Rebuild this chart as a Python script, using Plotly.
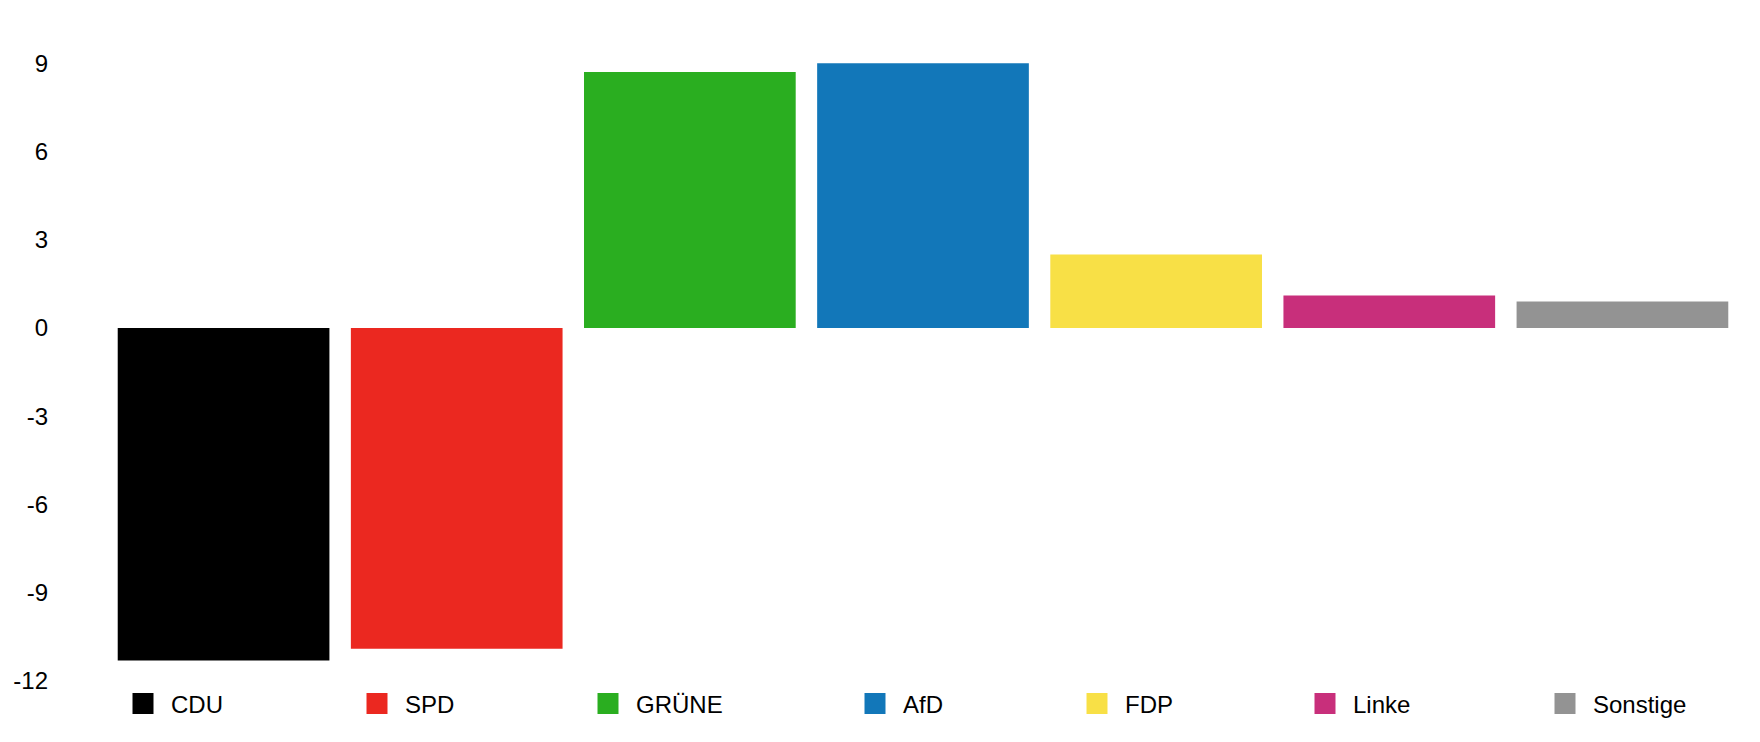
import plotly.graph_objects as go

parties = ["CDU", "SPD", "GRÜNE", "AfD", "FDP", "Linke", "Sonstige"]
changes = [-11.3, -10.9, 8.7, 9.0, 2.5, 1.1, 0.9]
colors = ["#000000", "#EB2820", "#2AAE20", "#1277B9", "#F8E046", "#C82F7B", "#939393"]
y_ticks = [-12, -9, -6, -3, 0, 3, 6, 9]

# The page body has an 8px default margin, so the figure is laid out 8px
# smaller and everything is measured in figure pixels.
W, H = 1744, 726
ML, MR, MT, MB = 99, 13, 0, 53
PW, PH = W - ML - MR, H - MT - MB

# vertical scale: 22.5 units over 662 px, axis bottom at -12
PX_PER_UNIT = 662 / 22.5
Y_MIN = -12
Y_MAX = Y_MIN + PH / PX_PER_UNIT

# legend entry left edges (figure px)
legend_left_px = [107, 341, 572, 839, 1061, 1289, 1529]
legend_center_y_px = 696

FONT = "Liberation Sans, Arial, Helvetica, sans-serif"

fig = go.Figure()

# the bars
for p, v, c in zip(parties, changes, colors):
    fig.add_trace(go.Bar(x=[p], y=[v], marker=dict(color=c, line=dict(width=0)),
                         showlegend=False, hoverinfo="x+y"))

# legend entries (one legend per entry, placed like the reference)
layout_legends = {}
for i, (p, c) in enumerate(zip(parties, colors)):
    key = "legend" if i == 0 else f"legend{i+1}"
    fig.add_trace(go.Scatter(x=[None], y=[None], name=p, mode="markers",
                             marker=dict(symbol="square", size=16, color=c,
                                         line=dict(color=c, width=5)),
                             showlegend=True, legend=key, hoverinfo="skip"))
    layout_legends[key] = dict(
        xref="paper", yref="paper",
        x=(legend_left_px[i] - ML) / PW, xanchor="left",
        y=(H - MB - legend_center_y_px) / PH, yanchor="middle",
        orientation="h", itemwidth=46,
        font=dict(family=FONT, size=24, color="#000000"),
        bgcolor="rgba(0,0,0,0)", borderwidth=0,
        itemclick=False, itemdoubleclick=False,
    )

fig.update_layout(
    width=W, height=H,
    barmode="relative",
    bargap=0.092,
    plot_bgcolor="white", paper_bgcolor="white",
    margin=dict(l=ML, r=MR, t=MT, b=MB, pad=0),
    font=dict(family=FONT, size=24, color="#000000"),
    xaxis=dict(showticklabels=False, showgrid=False, zeroline=False,
               showline=False, ticks="", range=[-0.5, 6.5], fixedrange=True,
               automargin=False),
    yaxis=dict(range=[Y_MIN, Y_MAX], tickvals=y_ticks,
               ticktext=[str(t) for t in y_ticks],
               showgrid=False, zeroline=False, showline=False, ticks="",
               ticklabelstandoff=58, automargin=False,
               tickfont=dict(family=FONT, size=24, color="#000000"),
               fixedrange=True),
    **layout_legends,
)

fig.write_html("out.html")
